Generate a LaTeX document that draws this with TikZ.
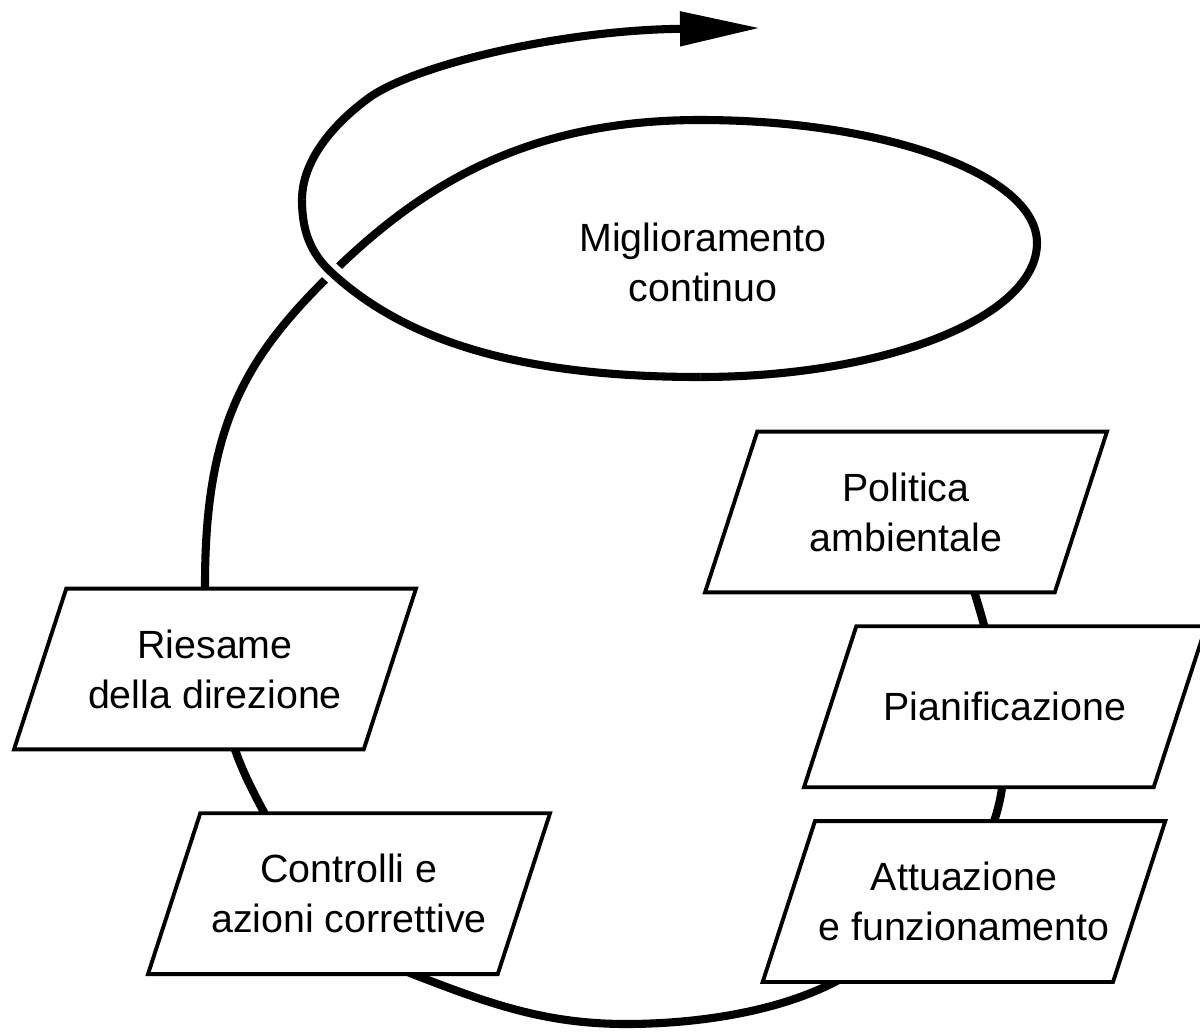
\documentclass[tikz,border=0pt]{standalone}
\usepackage{fontspec}
\setmainfont{Liberation Sans}
\usetikzlibrary{arrows.meta,positioning,shapes.geometric}

\begin{document}
\begin{tikzpicture}[node distance=3mm, auto]
\tikzset{
    mybox/.style={trapezium, trapezium left angle=72, trapezium right angle=108, trapezium stretches body, draw=black, fill=white, line width=1.1pt, minimum width=4.02cm, inner xsep=1pt, inner ysep=4.1mm, align=center, font=\fontsize{11.2}{14.2}\selectfont},
    myspiral/.style={line width=2.3pt, line cap=round, line join=round},
    myarrow/.style={-{Triangle[length=8mm,width=3.3mm]}},
    mylabel/.style={align=center, font=\fontsize{11.2}{14.2}\selectfont}
}
\useasboundingbox (0,0) rectangle (12,10.32);

% the spiral starts behind the first box, goes round once and ends in the arrow
\draw[myspiral, myarrow] (9.55,5.02)
    .. controls (9.75,4.35) and (10.04,3.62) .. (10.04,2.72)
    .. controls (10.04,1.72) and (9.31,1.05) .. (8.44,0.55)
    .. controls (7.83,0.20) and (6.96,0.08) .. (6.26,0.08)
    .. controls (5.46,0.08) and (4.90,0.28) .. (4.15,0.57)
    .. controls (3.40,0.86) and (2.83,1.79) .. (2.48,2.51)
    .. controls (2.22,3.05) and (2.05,3.87) .. (2.05,4.47)
    .. controls (2.05,6.07) and (2.46,6.75) .. (3.32,7.59)
    .. controls (4.25,8.50) and (5.30,9.12) .. (7.00,9.12)
    .. controls (8.86,9.12) and (10.37,8.57) .. (10.37,7.89)
    .. controls (10.37,7.15) and (8.86,6.55) .. (7.00,6.55)
    .. controls (5.20,6.55) and (4.06,6.91) .. (3.32,7.59)
    .. controls (3.10,7.79) and (3.02,8.02) .. (3.02,8.32)
    .. controls (3.02,8.72) and (3.34,9.08) .. (3.66,9.32)
    .. controls (4.09,9.66) and (5.60,10.02) .. (7.60,10.04);
% the loop passes over the rising part, so that bit is drawn again with a white edge
\draw[myspiral, line cap=butt, preaction={draw=white, line width=5.5pt}] (7.00,6.55)
    .. controls (5.20,6.55) and (4.06,6.91) .. (3.32,7.59)
    .. controls (3.10,7.79) and (3.02,8.02) .. (3.02,8.32);

\node[mylabel] (miglior) at (7.03,7.70) {Miglioramento\\continuo};

\node[mybox] (politica) at (9.06,5.20) {Politica\\ambientale};
\node[mybox, inner ysep=6.6mm, below=of politica, xshift=9.9mm] (pianif) {Pianificazione};
\node[mybox, below=of pianif, xshift=-4.1mm] (attuaz) {Attuazione\\e funzionamento};

\node[mybox] (riesame) at (2.15,3.63) {Riesame\\della direzione};
\node[mybox, below=6mm of riesame, xshift=13.4mm] (controlli) {Controlli e\\azioni correttive};

\end{tikzpicture}
\end{document}
